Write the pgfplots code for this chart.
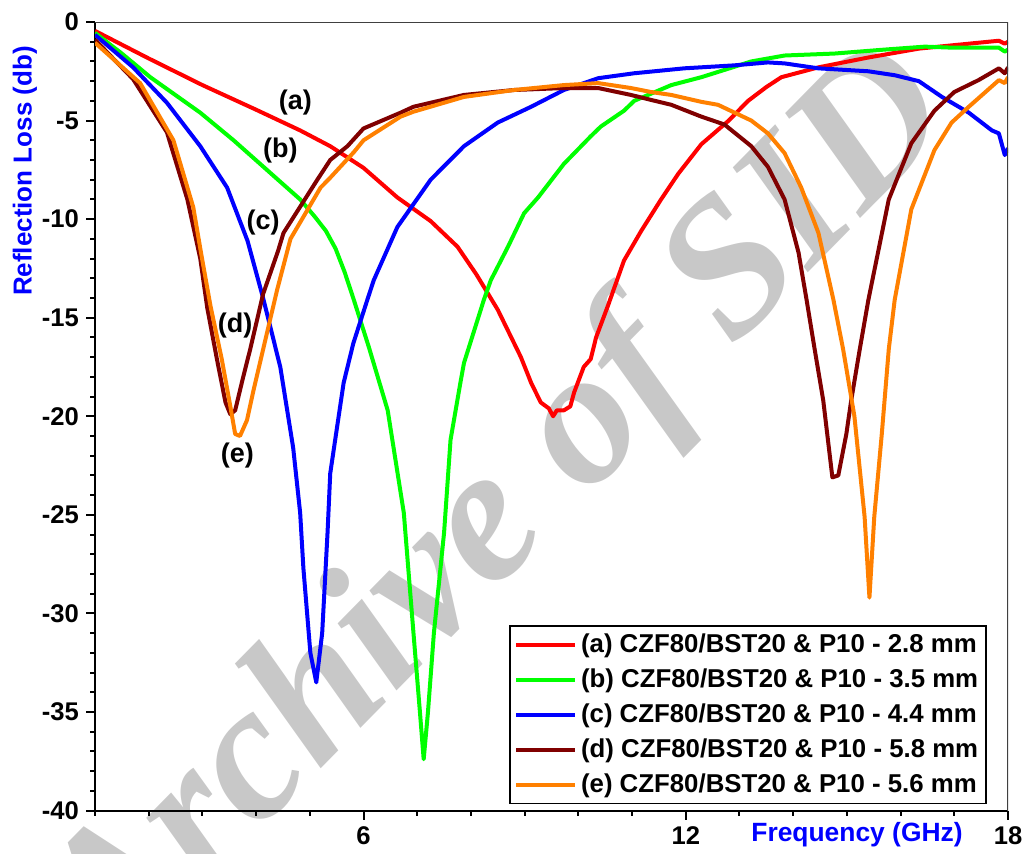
\documentclass[border=0pt]{standalone}
\usepackage{fontspec}
\setmainfont{Liberation Sans}
\newfontfamily\wmfont{Liberation Serif}
\usepackage{pgfplots}
\pgfplotsset{compat=1.18}
\definecolor{cA}{RGB}{255,0,0}
\definecolor{cB}{RGB}{0,255,0}
\definecolor{cC}{RGB}{0,0,255}
\definecolor{cD}{RGB}{128,0,0}
\definecolor{cE}{RGB}{255,128,0}
\definecolor{wm}{RGB}{200,200,200}
\begin{document}
\begin{tikzpicture}
\begin{axis}[
  set layers,
  at={(47.5pt,21.25pt)}, anchor=south west,
  scale only axis, width=456.5pt, height=394.25pt,
  xmin=1, xmax=18, ymin=-40, ymax=0,
  axis x line*=bottom, axis y line*=left,
  axis line style={line width=1pt, -},
  xtick={6,12,18}, minor xtick={1,2,...,18},
  ytick={-40,-35,...,0}, minor ytick={-40,-39,...,0},
  tick align=outside, tick pos=left,
  major tick length=4.5pt, minor tick length=2.5pt,
  every tick/.style={black, line width=1pt},
  /pgf/number format/assume math mode=true,
  tick label style={font=\bfseries\fontsize{12.8}{14}\selectfont},
  legend style={at={(0.977,0.008)}, anchor=south east, draw=black, line width=0.8pt,
    font=\bfseries\fontsize{12.9}{15}\selectfont, inner sep=2pt, row sep=2.6pt},
  legend cell align=left,
  legend image code/.code={\draw[#1, line width=2pt] (0pt,0pt) -- (29.5pt,0pt);},
  every axis plot/.append style={line width=2pt, line join=round},
  clip=true,
]
\begin{pgfonlayer}{axis background}
\node[wm, rotate=45.5, font=\wmfont\bfseries\itshape\fontsize{97}{97}\selectfont] at (axis cs:8.6,-25.0) {Archive of SID};
\end{pgfonlayer}

\addplot[cA] coordinates {
(1,-0.45) (2,-1.85) (3,-3.2) (4,-4.45) (4.82,-5.5) (5.38,-6.3) (6,-7.4) (6.63,-8.9) (7.25,-10.1)
(7.75,-11.4) (8.1,-12.8) (8.5,-14.6) (8.93,-17.0) (9.12,-18.3) (9.3,-19.3) (9.45,-19.6) (9.53,-20.0)
(9.6,-19.7) (9.73,-19.7) (9.85,-19.5) (9.92,-18.8) (10.1,-17.5) (10.23,-17.1) (10.33,-16.0) (10.55,-14.4)
(10.85,-12.1) (11.17,-10.6) (11.54,-9.0) (11.86,-7.7) (12.29,-6.2) (12.8,-5.0) (13.16,-4.0) (13.5,-3.3)
(13.78,-2.8) (14.47,-2.3) (15.4,-1.8) (16.34,-1.35) (17.27,-1.1) (17.83,-0.95) (17.94,-1.1) (18,-1.0)
};
\addlegendentry{(a) CZF80/BST20 \& P10 - 2.8 mm}
\addplot[cB] coordinates {
(1,-0.55) (1.5,-1.6) (2.03,-2.8) (2.96,-4.6) (3.58,-6.0) (4.2,-7.5) (4.82,-9.0) (5.1,-9.9) (5.3,-10.6)
(5.48,-11.5) (5.65,-12.7) (5.82,-14.1)
(6.1,-16.5) (6.45,-19.7) (6.75,-24.9) (6.93,-31.0) (7.05,-35) (7.12,-37.4) (7.2,-35) (7.31,-31.0)
(7.5,-25.9) (7.62,-21.2) (7.81,-18.2) (7.87,-17.3) (8.24,-14.1) (8.37,-13.1) (8.69,-11.4) (8.99,-9.7)
(9.25,-8.9) (9.73,-7.2) (10.23,-5.8) (10.42,-5.3) (10.85,-4.5) (11.04,-4.0) (11.73,-3.2) (12.29,-2.8)
(13.22,-2.0) (13.84,-1.7) (14.77,-1.6) (15.7,-1.4) (16.45,-1.25) (16.95,-1.3) (17.83,-1.3) (17.94,-1.5) (18,-1.4)
};
\addlegendentry{(b) CZF80/BST20 \& P10 - 3.5 mm}
\addplot[cC] coordinates {
(1,-0.65) (1.71,-2.3) (2.34,-4.1) (2.96,-6.3) (3.46,-8.4) (3.84,-11.1) (4.13,-14.0) (4.45,-17.5)
(4.69,-21.6) (4.82,-24.9) (4.88,-27.7) (5.01,-32.0) (5.12,-33.5) (5.23,-31.0) (5.33,-25.9) (5.38,-22.9)
(5.51,-20.5) (5.63,-18.3) (5.81,-16.3) (6.07,-14.1) (6.19,-13.1) (6.63,-10.4) (7.25,-8.0) (7.87,-6.3)
(8.5,-5.1) (9.12,-4.3) (9.73,-3.45) (10.37,-2.85) (11.04,-2.6) (11.6,-2.45) (11.97,-2.35) (12.9,-2.2)
(13.53,-2.05) (13.84,-2.1) (14.47,-2.35) (15.4,-2.5) (15.89,-2.7) (16.34,-3.0) (16.77,-3.8) (17.27,-4.6)
(17.7,-5.5) (17.83,-5.65) (17.94,-6.75) (18,-6.4)
};
\addlegendentry{(c) CZF80/BST20 \& P10 - 4.4 mm}
\addplot[cD] coordinates {
(1,-0.9) (1.71,-2.9) (2.34,-5.6) (2.72,-9.0) (2.96,-12.0) (3.09,-14.5) (3.27,-17.1) (3.43,-19.3)
(3.52,-19.9) (3.61,-19.7) (3.76,-18.0) (3.89,-16.6) (4.13,-13.8) (4.41,-11.6) (4.51,-10.7) (5.14,-8.0)
(5.38,-7.0) (5.7,-6.3) (6.0,-5.4) (6.69,-4.6) (6.93,-4.3) (7.87,-3.7) (8.8,-3.45) (9.73,-3.35)
(10.37,-3.35) (10.98,-3.7) (11.35,-3.95) (11.73,-4.2) (12.29,-4.8) (12.72,-5.2) (13.22,-6.3) (13.53,-7.35)
(13.84,-9.0) (14.1,-11.7) (14.25,-14.1) (14.4,-16.6) (14.56,-19.2) (14.73,-23.1) (14.84,-23.0) (14.99,-20.9)
(15.08,-19.2) (15.24,-16.6) (15.4,-14.1) (15.78,-9.0) (16.2,-6.15) (16.63,-4.5) (17.0,-3.55) (17.45,-2.95)
(17.83,-2.35) (17.94,-2.6) (18,-2.3)
};
\addlegendentry{(d) CZF80/BST20 \& P10 - 5.8 mm}
\addplot[cE] coordinates {
(1,-1.05) (1.84,-3.1) (2.46,-6.0) (2.83,-9.4) (2.98,-11.8) (3.15,-14.4) (3.36,-17.1) (3.52,-19.5)
(3.61,-20.9) (3.7,-21.0) (3.83,-20.2) (3.95,-18.7) (4.2,-15.8) (4.39,-13.6) (4.64,-11.0) (5.2,-8.4)
(5.38,-7.9) (5.82,-6.6) (6.0,-6.0) (6.69,-4.8) (6.93,-4.55) (7.87,-3.8) (8.8,-3.45) (9.73,-3.2)
(10.37,-3.1) (10.98,-3.35) (11.35,-3.55) (11.73,-3.7) (12.29,-4.05) (12.6,-4.2) (13.22,-5.0) (13.53,-5.65)
(13.84,-6.65) (14.15,-8.4) (14.47,-10.7) (14.75,-14.1) (14.93,-16.6) (15.14,-20.0) (15.33,-25.1) (15.42,-29.2)
(15.51,-25.1) (15.65,-20.9) (15.78,-16.6) (15.89,-14.1) (16.2,-9.5) (16.63,-6.5) (16.95,-5.1) (17.27,-4.3)
(17.83,-2.95) (17.94,-3.1) (18,-2.8)
};
\addlegendentry{(e) CZF80/BST20 \& P10 - 5.6 mm}

\draw[black!75, line width=0.6pt] (rel axis cs:0,1) -- (rel axis cs:1,1) -- (rel axis cs:1,0);
\begin{scope}[every node/.style={font=\bfseries\fontsize{13.5}{15}\selectfont}]
\node at (axis cs:4.73,-4.1) {(a)};
\node at (axis cs:4.45,-6.5) {(b)};
\node at (axis cs:4.13,-10.15) {(c)};
\node at (axis cs:3.61,-15.4) {(d)};
\node at (axis cs:3.65,-22.0) {(e)};
\end{scope}
\end{axis}
\node[blue, rotate=90, font=\bfseries\fontsize{13}{15}\selectfont] at (12.5pt,341pt) {Reflection Loss (db)};
\node[blue, font=\bfseries\fontsize{13.2}{15}\selectfont] at (428.5pt,9pt) {Frequency (GHz)};
\pgfresetboundingbox
\useasboundingbox (0,0) rectangle (512pt,426.5pt);
\end{tikzpicture}
\end{document}
